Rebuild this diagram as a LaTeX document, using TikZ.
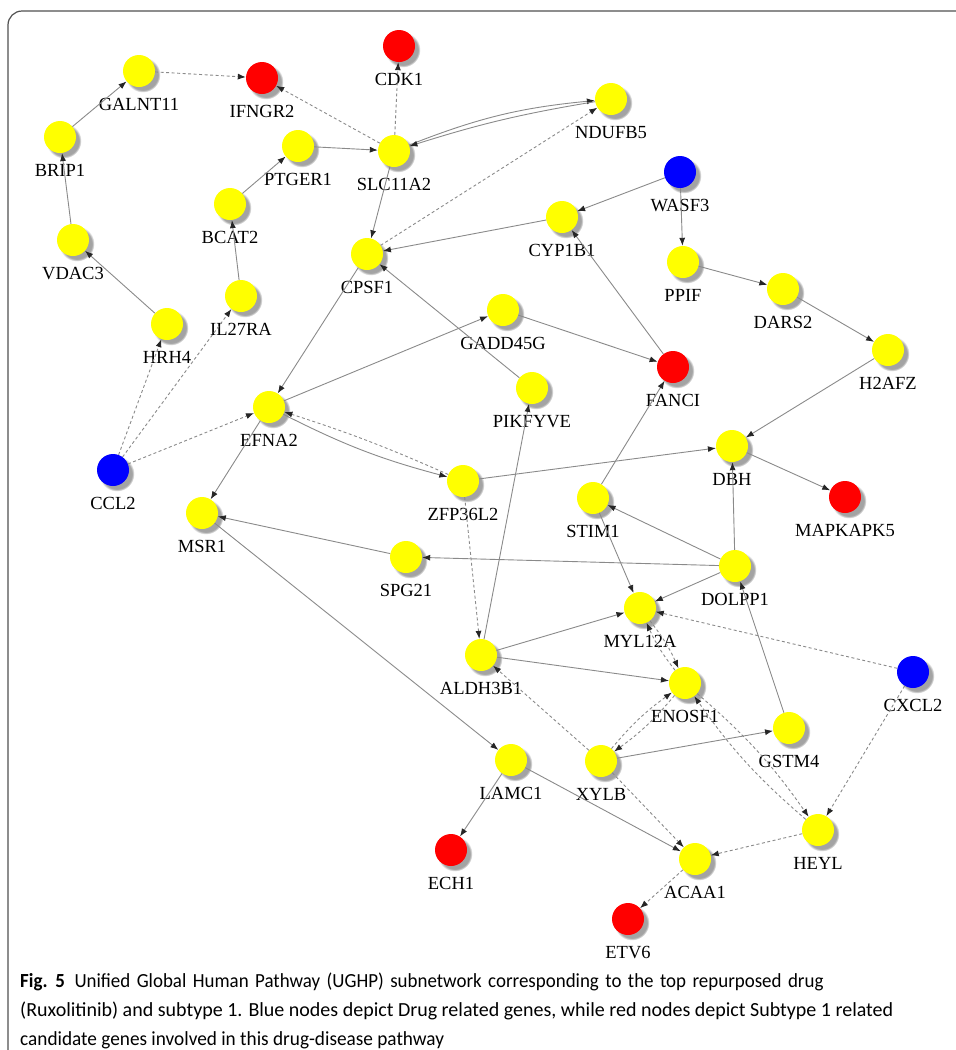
\documentclass[tikz,border=0pt]{standalone}
\usepackage{fontspec}
\setmainfont{Liberation Serif}
\newfontfamily\capfont{Carlito}
\usetikzlibrary{arrows.meta,shadows}
\definecolor{gyellow}{HTML}{FFFF00}
\definecolor{gred}{HTML}{FF0000}
\definecolor{gblue}{HTML}{0000FF}
\definecolor{wiregray}{HTML}{8A8A8A}
\definecolor{framegray}{HTML}{505050}

\begin{document}
\begin{tikzpicture}[x=1pt,y=-1pt,>={Latex[length=8pt,width=6pt,color=black!85]},
   label distance=11pt,
   g/.style={circle,fill=#1,minimum size=32pt,inner sep=0pt,
     circular drop shadow={shadow xshift=3.5pt,shadow yshift=-3.5pt,shadow scale=1.1,fill=black!60,opacity=0.6}},
   lbl/.style={font=\fontsize{18.5}{18.5}\selectfont,inner sep=0pt},
   yel/.style={g=gyellow,label={[lbl]below:#1}},
   red/.style={g=gred,label={[lbl]below:#1}},
   blu/.style={g=gblue,label={[lbl]below:#1}},
   wire/.style={wiregray,line width=0.9pt},
   dwire/.style={wire,dash pattern=on 3pt off 2.5pt}]
  \useasboundingbox (0,0) rectangle (956,1050);
  \draw[framegray,line width=1.2pt,rounded corners=14pt] (8,1060) -- (8,11) -- (966,11);
  % genes
  \node[yel=GALNT11] (GALNT11) at (139,71) {}; \node[red=IFNGR2] (IFNGR2) at (262,78) {};
  \node[red=CDK1] (CDK1) at (399,46) {}; \node[yel=NDUFB5] (NDUFB5) at (611,99) {};
  \node[yel=BRIP1] (BRIP1) at (60,137) {}; \node[yel=PTGER1] (PTGER1) at (298,146) {};
  \node[yel=SLC11A2] (SLC11A2) at (394,151) {}; \node[blu=WASF3] (WASF3) at (680,172) {};
  \node[yel=CYP1B1] (CYP1B1) at (562,217) {}; \node[yel=VDAC3] (VDAC3) at (73,240) {};
  \node[yel=BCAT2] (BCAT2) at (230,204) {}; \node[yel=CPSF1] (CPSF1) at (367,254) {};
  \node[yel=PPIF] (PPIF) at (683,262) {}; \node[yel=DARS2] (DARS2) at (783,289) {};
  \node[yel=IL27RA] (IL27RA) at (241,296) {}; \node[yel=HRH4] (HRH4) at (167,324) {};
  \node[yel=GADD45G] (GADD45G) at (503,310) {}; \node[yel=H2AFZ] (H2AFZ) at (888,350) {};
  \node[red=FANCI] (FANCI) at (673,367) {}; \node[yel=PIKFYVE] (PIKFYVE) at (532,388) {};
  \node[yel=EFNA2] (EFNA2) at (269,407) {}; \node[blu=CCL2] (CCL2) at (113,470) {};
  \node[yel=DBH] (DBH) at (732,446) {}; \node[yel=ZFP36L2] (ZFP36L2) at (463,481) {};
  \node[yel=STIM1] (STIM1) at (593,498) {}; \node[red=MAPKAPK5] (MAPKAPK5) at (845,497) {};
  \node[yel=MSR1] (MSR1) at (202,513) {}; \node[yel=SPG21] (SPG21) at (406,557) {};
  \node[yel=DOLPP1] (DOLPP1) at (735,566) {}; \node[yel=MYL12A] (MYL12A) at (640,608) {};
  \node[yel=ALDH3B1] (ALDH3B1) at (481,655) {}; \node[blu=CXCL2] (CXCL2) at (913,672) {};
  \node[yel=ENOSF1] (ENOSF1) at (685,683) {}; \node[yel=GSTM4] (GSTM4) at (789,728) {};
  \node[yel=LAMC1] (LAMC1) at (511,760) {}; \node[yel=XYLB] (XYLB) at (601,761) {};
  \node[yel=HEYL] (HEYL) at (818,830) {}; \node[red=ECH1] (ECH1) at (451,850) {};
  \node[yel=ACAA1] (ACAA1) at (695,859) {}; \node[red=ETV6] (ETV6) at (628,919) {};
  % solid edges
  \foreach \a/\b in {BRIP1/GALNT11,VDAC3/BRIP1,HRH4/VDAC3,IL27RA/BCAT2,BCAT2/PTGER1,PTGER1/SLC11A2,%
    SLC11A2/CPSF1,CYP1B1/CPSF1,WASF3/CYP1B1,WASF3/PPIF,PPIF/DARS2,DARS2/H2AFZ,H2AFZ/DBH,%
    FANCI/CYP1B1,GADD45G/FANCI,STIM1/FANCI,PIKFYVE/CPSF1,CPSF1/EFNA2,EFNA2/GADD45G,EFNA2/MSR1,%
    ZFP36L2/DBH,ALDH3B1/PIKFYVE,DBH/MAPKAPK5,DOLPP1/DBH,DOLPP1/STIM1,DOLPP1/SPG21,DOLPP1/MYL12A,%
    STIM1/MYL12A,SPG21/MSR1,MSR1/LAMC1,ALDH3B1/MYL12A,ALDH3B1/ENOSF1,XYLB/GSTM4,GSTM4/DOLPP1,%
    LAMC1/ACAA1,LAMC1/ECH1}{\draw[wire,->] (\a) -- (\b);}
  \draw[wire,->] (SLC11A2) to[bend left=8] (NDUFB5);
  \draw[wire,->] (NDUFB5) to[bend right=4] (SLC11A2);
  \draw[wire,->] (EFNA2) to[bend right=6] (ZFP36L2);
  \draw[dwire,->] (ZFP36L2) to[bend right=3] (EFNA2);
  % dashed edges
  \foreach \a/\b in {GALNT11/IFNGR2,SLC11A2/IFNGR2,SLC11A2/CDK1,CCL2/HRH4,CCL2/IL27RA,CCL2/EFNA2,%
    CPSF1/NDUFB5,ZFP36L2/ALDH3B1,CXCL2/MYL12A,CXCL2/HEYL,XYLB/ALDH3B1,XYLB/ACAA1,HEYL/ACAA1,%
    ACAA1/ETV6}{\draw[dwire,->] (\a) -- (\b);}
  \foreach \a/\b in {MYL12A/ENOSF1,ENOSF1/MYL12A,ENOSF1/XYLB,XYLB/ENOSF1,ENOSF1/HEYL,HEYL/ENOSF1}
    {\draw[dwire,->] (\a) to[bend left=7] (\b);}
  % caption
  \node[anchor=north west,align=left,inner sep=0pt,font=\capfont\fontsize{20}{29}\selectfont] (caption) at (20,973)
    {\spaceskip=6.8pt\relax\scalebox{0.947}[1]{\textbf{Fig. 5}\hspace{10pt}Unified Global Human Pathway (UGHP) subnetwork corresponding to the top repurposed drug}\\
     (Ruxolitinib) and subtype 1. Blue nodes depict Drug related genes, while red nodes depict Subtype 1 related\\
     \scalebox{0.963}[1]{candidate genes involved in this drug-disease pathway}};
\end{tikzpicture}
\end{document}
